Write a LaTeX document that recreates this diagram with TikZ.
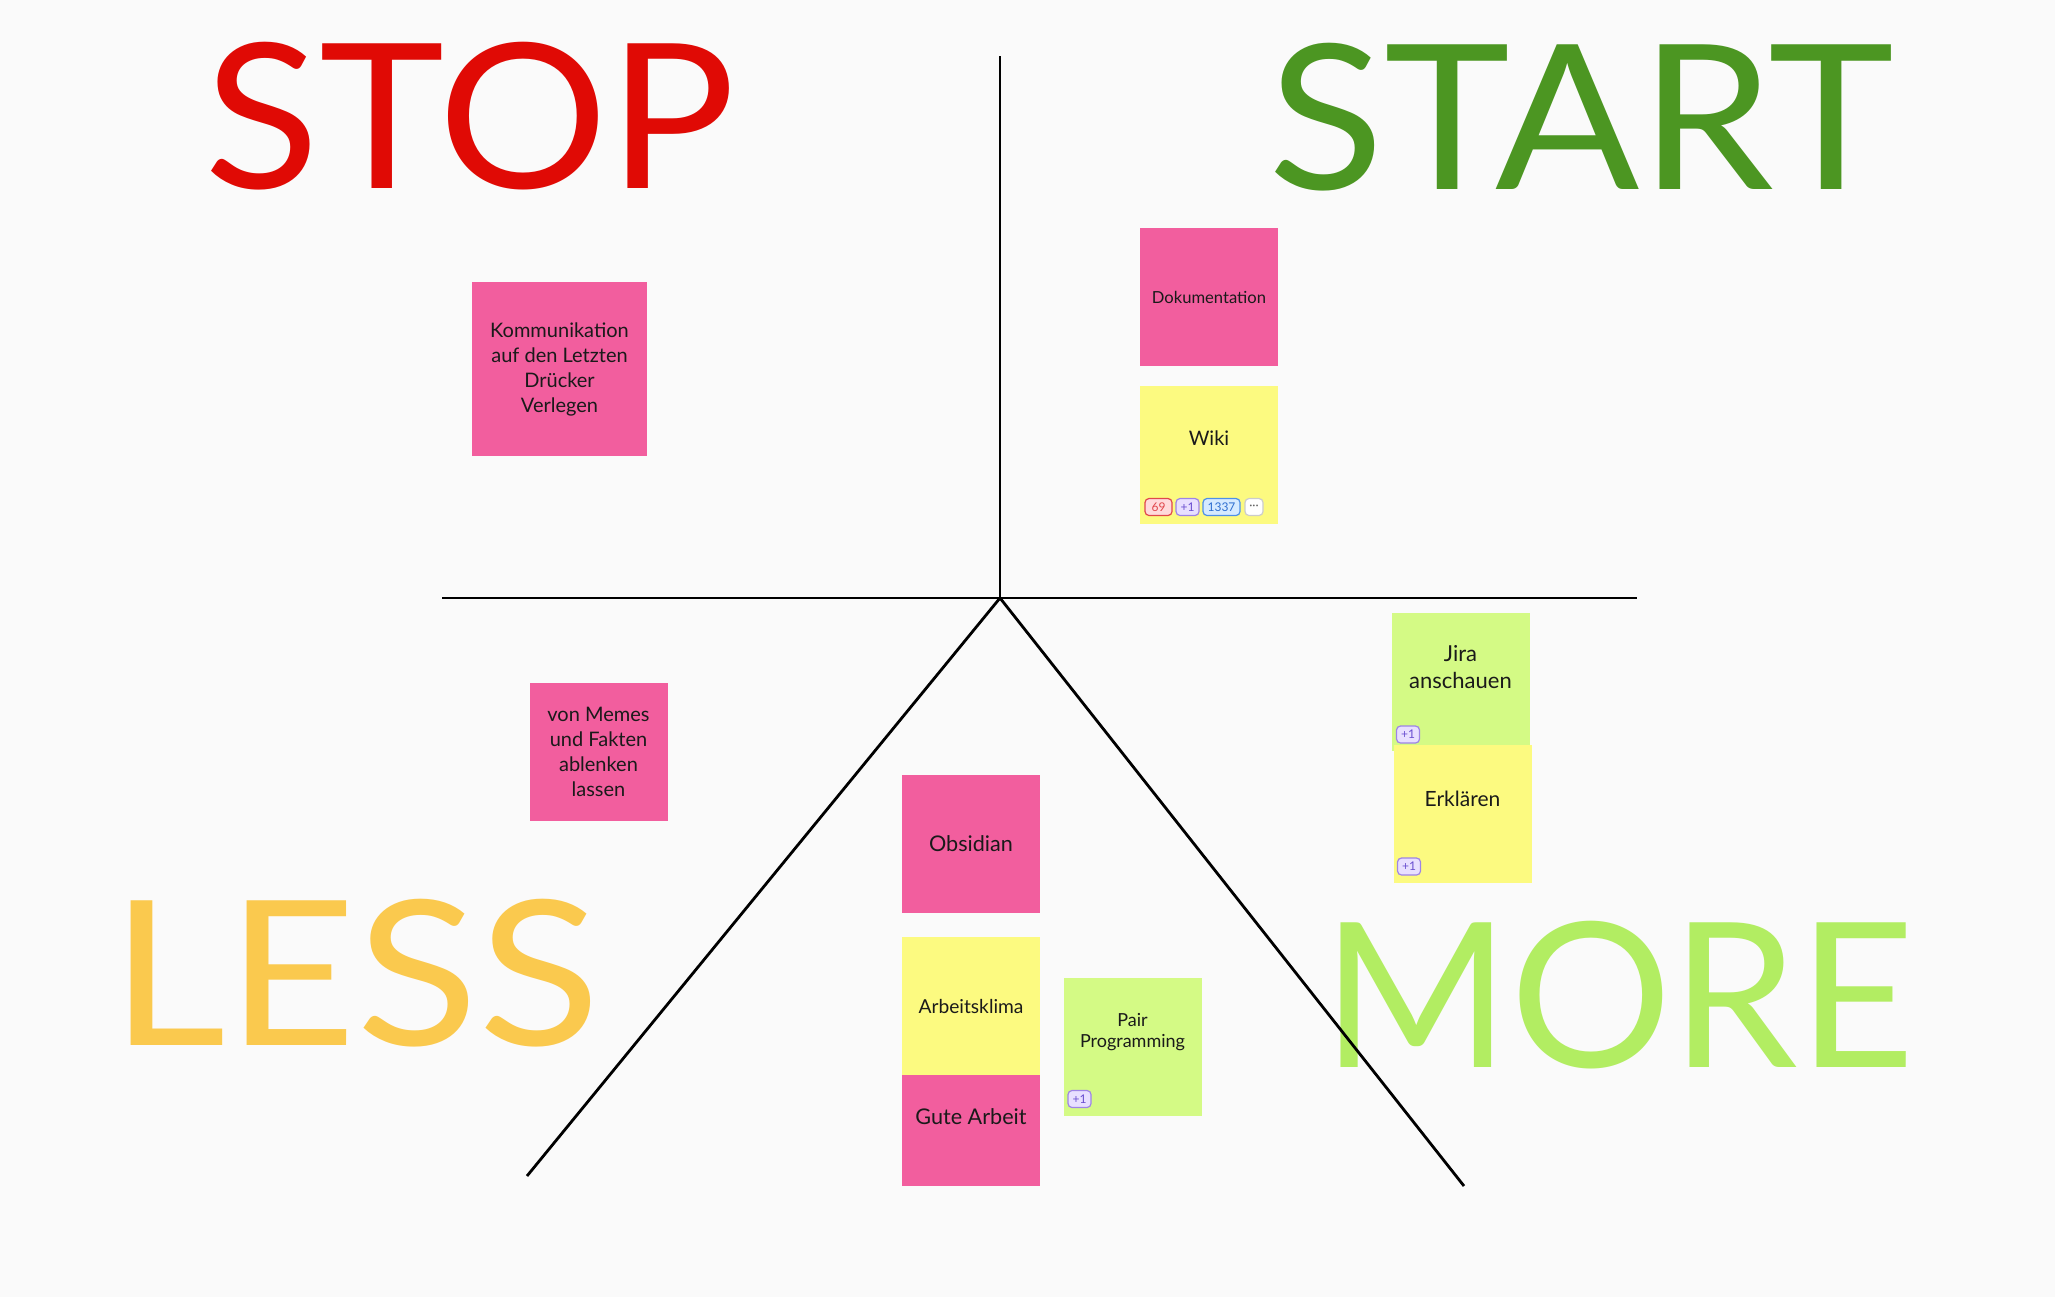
\documentclass[tikz,border=0pt]{standalone}
\usepackage{fontspec}
\setmainfont{Lato}
\usepackage{graphicx}
\usepackage{tikz}

\definecolor{boardbg}{HTML}{FAFAFA}
\definecolor{stopred}{HTML}{E00A05}
\definecolor{startgreen}{HTML}{4C9622}
\definecolor{lessyellow}{HTML}{FAC94E}
\definecolor{moregreen}{HTML}{B2ED62}
\definecolor{notepink}{HTML}{F25E9E}
\definecolor{noteyellow}{HTML}{FCFA80}
\definecolor{notegreen}{HTML}{D4FA85}
\definecolor{inkdark}{HTML}{1A1A1A}
\definecolor{badgeredline}{HTML}{E0474C}
\definecolor{badgeredfill}{HTML}{FFD9DB}
\definecolor{badgepurpleline}{HTML}{9E84E6}
\definecolor{badgepurplefill}{HTML}{E8DFFF}
\definecolor{badgepurpletext}{HTML}{6A4FD0}
\definecolor{badgeblueline}{HTML}{4E90E8}
\definecolor{badgebluefill}{HTML}{D5EAFF}
\definecolor{badgebluetext}{HTML}{2F6FD0}

\tikzset{
  bigword/.style={anchor=base west,inner sep=0pt,font=\fontsize{101}{101}\selectfont},
  note/.style={minimum width=69pt,minimum height=69pt,inner sep=0pt,align=center,text=inkdark,font=\fontsize{10}{12.5}\selectfont},
  pinknote/.style={note,fill=notepink},
  yellownote/.style={note,fill=noteyellow},
  greennote/.style={note,fill=notegreen},
  notetext/.style={inner sep=0pt,align=center,text=inkdark,font=\fontsize{10}{13}\selectfont},
  badge/.style={rounded corners=2pt,line width=0.6pt,inner sep=0pt,minimum height=8.5pt,font=\fontsize{6}{6}\selectfont},
  plusone/.style={badge,draw=badgepurpleline,fill=badgepurplefill,text=badgepurpletext,minimum width=11.5pt},
  boardline/.style={line width=1.4pt,black}
}

\begin{document}
\begin{tikzpicture}[x=0.5pt,y=0.5pt,yscale=-1,xscale=1]
%board, 2055 x 1297
\fill[boardbg] (0,0) rectangle (2055,1297);
\useasboundingbox (0,0) rectangle (2055,1297);

% Big words
\node[bigword,text=stopred] (stop) at (204,188) {\scalebox{1.05}[1]{STOP}};
\node[bigword,text=startgreen] (start) at (1268,189) {\scalebox{1.056}[1]{START}};
\node[bigword,text=lessyellow] (less) at (110,1045) {\scalebox{1.115}[1]{LESS}};
\node[bigword,text=moregreen] (more) at (1322,1067) {MORE};

%Straight Lines
\coordinate (hub) at (1000,598);
\coordinate (up) at (1000,56);
\coordinate (west) at (442,598);
\coordinate (east) at (1637,598);
\coordinate (southwest) at (527,1176);
\coordinate (southeast) at (1464,1186);
\draw[boardline] (hub) -- (up);
\draw[boardline] (west) -- (east);
\draw[boardline] (hub) -- (southwest);
\draw[boardline] (hub) -- (southeast);

% STOP
\node[pinknote,minimum width=87.5pt,minimum height=87pt] (komm) at (559.5,369) {Kommunikation\\auf den Letzten\\Drücker\\Verlegen};

% START
\node[pinknote,font=\fontsize{8.3}{10}\selectfont] (doku) at (1209,297) {Dokumentation};
\node[yellownote] (wiki) at (1209,454.5) {};
\node[notetext] (wikitext) at (1209,438) {Wiki};
\node[badge,draw=badgeredline,fill=badgeredfill,text=badgeredline,minimum width=13.5pt] (wiki69) at (1158.5,507) {69};
\node[plusone] (wikiplus) at (1187.5,507) {+1};
\node[badge,draw=badgeblueline,fill=badgebluefill,text=badgebluetext,minimum width=18.5pt] (wiki1337) at (1221.5,507) {1337};
\node[badge,draw=black!20,fill=white,text=black!60,minimum width=9pt] (wikimore) at (1254,507) {···};

% LESS
\node[pinknote] (memes) at (598.5,751.5) {von Memes\\und Fakten\\ablenken\\lassen};
\node[pinknote,font=\fontsize{10.8}{12.5}\selectfont] (obsidian) at (971,844) {Obsidian};
\node[pinknote,font=\fontsize{10.8}{12.5}\selectfont] (gute) at (971,1116.5) {Gute Arbeit};
\node[yellownote,font=\fontsize{9.6}{11}\selectfont] (klima) at (971,1006) {Arbeitsklima};

% MORE
\node[greennote] (pair) at (1132.5,1046.5) {};
\node[notetext,font=\fontsize{9}{10.5}\selectfont] (pairtext) at (1132.5,1032) {Pair\\Programming};
\node[plusone] (pairplus) at (1079.5,1099) {+1};
\node[greennote] (jira) at (1460.5,681.5) {};
\node[notetext,font=\fontsize{11}{13.5}\selectfont] (jiratext) at (1460.5,667) {Jira\\anschauen};
\node[plusone] (jiraplus) at (1408,734.5) {+1};
\node[yellownote] (erklaeren) at (1462.5,814) {};
\node[notetext,font=\fontsize{10.5}{13.5}\selectfont] (erklaerentext) at (1462.5,799) {Erklären};
\node[plusone] (erklaerenplus) at (1409,866.5) {+1};

\end{tikzpicture}
\end{document}
